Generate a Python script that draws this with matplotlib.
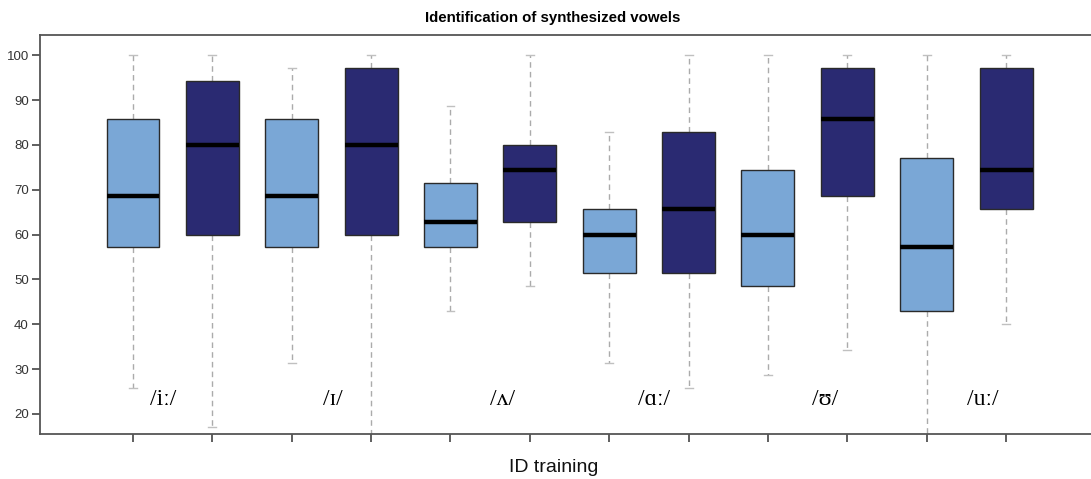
import matplotlib
matplotlib.use("Agg")
import matplotlib.pyplot as plt

# Box statistics for each vowel, before (light) and after (dark) ID training
vowels = ["/iː/", "/ɪ/", "/ʌ/", "/ɑː/", "/ʊ/", "/uː/"]
groups = ["pre", "post"]
whisker_low = [25.71, 17.14, 31.43, 14.29, 42.86, 48.57, 31.43, 25.71, 28.57, 34.29, 14.29, 40.00]
q1 = [57.14, 60.00, 57.14, 60.00, 57.14, 62.86, 51.43, 51.43, 48.57, 68.57, 42.86, 65.71]
median = [68.57, 80.00, 68.57, 80.00, 62.86, 74.29, 60.00, 65.71, 60.00, 85.71, 57.14, 74.29]
q3 = [85.71, 94.29, 85.71, 97.14, 71.43, 80.00, 65.71, 82.86, 74.29, 97.14, 77.14, 97.14]
whisker_high = [100.0, 100.0, 97.14, 100.0, 88.57, 100.0, 82.86, 100.0, 100.0, 100.0, 100.0, 100.0]

yticks = [20, 30, 40, 50, 60, 70, 80, 90, 100]
title = "Identification of synthesized vowels"
xlabel = "ID training"

colors = {"pre": "#7aa7d6", "post": "#2a2a72"}

fig = plt.figure(figsize=(10.91, 4.79), dpi=100)
ax = fig.add_axes([0.0367, 0.0939, 0.9633, 0.833])

positions = list(range(1, len(median) + 1))
stats = []
for i in range(len(median)):
    stats.append({
        "whislo": whisker_low[i], "q1": q1[i], "med": median[i],
        "q3": q3[i], "whishi": whisker_high[i], "fliers": [],
    })

bp = ax.bxp(
    stats, positions=positions, widths=0.667, patch_artist=True,
    showfliers=False, capwidths=0.1,
    boxprops=dict(edgecolor="#2a2a2a", linewidth=1.0),
    medianprops=dict(color="black", linewidth=3.2),
    whiskerprops=dict(color="#ababab", linewidth=1.0, linestyle=(0, (4, 3))),
    capprops=dict(color="#c0c0c0", linewidth=1.0),
)
for i, patch in enumerate(bp["boxes"]):
    patch.set_facecolor(colors[groups[i % 2]])
    patch.set_zorder(3)
for m in bp["medians"]:
    m.set_zorder(4)

# Vowel labels placed inside the plot near each pair
label_x = [1.38, 3.52, 5.66, 7.57, 9.72, 11.71]
for lx, v in zip(label_x, vowels):
    ax.text(lx, 23.2, v, ha="center", va="center", fontsize=17,
            family=["Liberation Serif", "DejaVu Serif"], color="black")

ax.set_xlim(-0.171, 13.07)
ax.set_ylim(15.5, 104.5)
ax.set_yticks(yticks)
ax.set_yticklabels([str(t) for t in yticks])
ax.set_xticks(positions)
ax.set_xticklabels([""] * len(positions))

for side in ["left", "top", "bottom"]:
    ax.spines[side].set_color("#555555")
    ax.spines[side].set_linewidth(1.3)
ax.spines["right"].set_visible(False)
ax.tick_params(axis="both", direction="out", length=6, width=1.2, color="#444444")
ax.tick_params(axis="y", labelsize=9.5, labelcolor="#333333", pad=2)
for lbl in ax.get_yticklabels():
    lbl.set_family("Liberation Sans")

fig.text(553 / 1091, 1 - 18 / 479, title, ha="center", va="center",
         fontsize=10.8, fontweight="bold", family="Liberation Sans")
fig.text(554 / 1091, 1 - 467 / 479, xlabel, ha="center", va="center",
         fontsize=14, family="Liberation Sans", color="#111111")

fig.savefig("out.png", dpi=100)
